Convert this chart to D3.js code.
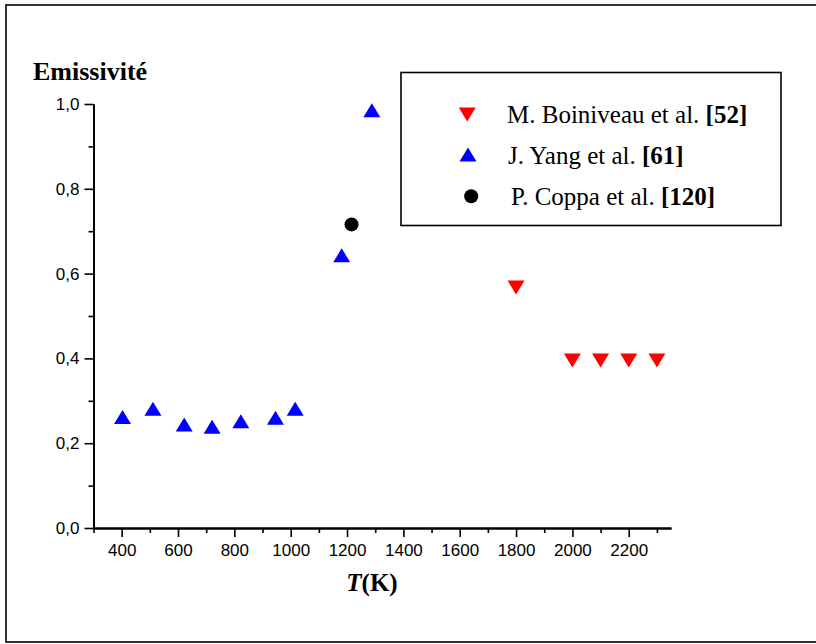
<!DOCTYPE html>
<html>
<head>
<meta charset="utf-8">
<script src="https://cdn.jsdelivr.net/npm/d3@7"></script>
<style>
  html, body { margin: 0; padding: 0; background: #fff; }
  svg { display: block; }
</style>
</head>
<body>
<svg id="chart" width="816" height="644"></svg>
<script>
// Emissivity versus temperature, three literature sources
const boiniveauT = [1800, 2000, 2100, 2200, 2300];
const boiniveauE = [0.567, 0.395, 0.395, 0.395, 0.395];

const yangT = [403, 511, 622, 721, 823, 946, 1016, 1181, 1288];
const yangE = [0.262, 0.281, 0.244, 0.239, 0.252, 0.260, 0.281, 0.643, 0.985];

const coppaT = [1216];
const coppaE = [0.716];

const xTicks = [400, 600, 800, 1000, 1200, 1400, 1600, 1800, 2000, 2200];
const xMinorTicks = [300, 500, 700, 900, 1100, 1300, 1500, 1700, 1900, 2100, 2300];
const yTicks = [0, 0.2, 0.4, 0.6, 0.8, 1.0];
const yMinorTicks = [0.1, 0.3, 0.5, 0.7, 0.9];

const legendLabels = [
  { name: "M. Boiniveau et al. ", ref: "[52]", kind: "down", color: "#ff0000" },
  { name: "J. Yang et al. ", ref: "[61]", kind: "up", color: "#0000ff" },
  { name: "P. Coppa et al. ", ref: "[120]", kind: "circle", color: "#000000" }
];

const svg = d3.select("#chart");

// outer frame
svg.append("rect")
  .attr("x", 6).attr("y", 5)
  .attr("width", 830).attr("height", 637)
  .attr("fill", "none").attr("stroke", "#000").attr("stroke-width", 1.6);

const x = d3.scaleLinear().domain([300, 2350]).range([93.5, 671]);
const y = d3.scaleLinear().domain([0, 1]).range([528, 104]);

const fmtY = v => d3.format(".1f")(v).replace(".", ",");
const fmtX = d3.format("d");

// X axis
const xAxis = svg.append("g").attr("transform", `translate(0,${y(0)})`);
xAxis.call(d3.axisBottom(x).tickValues(xTicks).tickSize(9).tickSizeOuter(0).tickPadding(5).tickFormat(fmtX));
xAxis.append("g").call(d3.axisBottom(x).tickValues(xMinorTicks).tickSize(5).tickSizeOuter(0).tickFormat(""));
xAxis.selectAll(".domain").attr("stroke-width", 2);

// Y axis
const yAxis = svg.append("g").attr("transform", `translate(${x(300)},0)`);
yAxis.call(d3.axisLeft(y).tickValues(yTicks).tickSize(9).tickSizeOuter(0).tickPadding(5).tickFormat(fmtY));
yAxis.append("g").call(d3.axisLeft(y).tickValues(yMinorTicks).tickSize(5).tickSizeOuter(0).tickFormat(""));
yAxis.selectAll(".domain").attr("stroke-width", 2);

svg.selectAll(".tick line").attr("stroke", "#000").attr("stroke-width", 1.6);
svg.selectAll(".tick text")
  .attr("fill", "#000")
  .style("font-family", "'Liberation Sans', Arial, sans-serif")
  .style("font-size", "17px");
xAxis.selectAll(".tick text").attr("dy", "0.85em");

// axis titles
svg.append("text")
  .attr("x", 33).attr("y", 80)
  .style("font-family", "'Liberation Serif', 'Times New Roman', serif")
  .style("font-weight", "bold").style("font-size", "26px")
  .text("Emissivité");

const xt = svg.append("text")
  .attr("x", 372).attr("y", 591).attr("text-anchor", "middle")
  .style("font-family", "'Liberation Serif', 'Times New Roman', serif")
  .style("font-weight", "bold").style("font-size", "25px");
xt.append("tspan").style("font-style", "italic").text("T");
xt.append("tspan").text("(K)");

// marker shapes, centred on their bounding box
const hw = 8.5, hh = 7;
const upPath = `M0,${-hh}L${hw},${hh}L${-hw},${hh}Z`;
const downPath = `M${-hw},${-hh}L${hw},${-hh}L0,${hh}Z`;

function drawMarker(g, kind, color, cx, cy) {
  if (kind === "circle") {
    g.append("circle").attr("cx", cx).attr("cy", cy).attr("r", 7).attr("fill", color);
  } else {
    g.append("path").attr("d", kind === "up" ? upPath : downPath)
      .attr("transform", `translate(${cx},${cy})`).attr("fill", color);
  }
}

const marks = svg.append("g");
d3.zip(yangT, yangE).forEach(([t, e]) => drawMarker(marks, "up", "#0000ff", x(t), y(e)));
d3.zip(boiniveauT, boiniveauE).forEach(([t, e]) => drawMarker(marks, "down", "#ff0000", x(t), y(e)));
d3.zip(coppaT, coppaE).forEach(([t, e]) => drawMarker(marks, "circle", "#000000", x(t), y(e)));

// legend
const lg = svg.append("g");
lg.append("rect")
  .attr("x", 401).attr("y", 72.5).attr("width", 380).attr("height", 153)
  .attr("fill", "#fff").attr("stroke", "#000").attr("stroke-width", 1.6);

const rowY = [114.5, 154.5, 196.3];
const markX = [467.2, 468, 471.2];
const textX = [507, 508, 511];
const baseY = [122.5, 164, 204.5];
legendLabels.forEach((d, i) => {
  drawMarker(lg, d.kind, d.color, markX[i], rowY[i]);
  const t = lg.append("text")
    .attr("x", textX[i]).attr("y", baseY[i])
    .style("font-family", "'Liberation Serif', 'Times New Roman', serif")
    .style("font-size", "25px");
  t.append("tspan").text(d.name);
  t.append("tspan").style("font-weight", "bold").text(d.ref);
});
</script>
</body>
</html>
